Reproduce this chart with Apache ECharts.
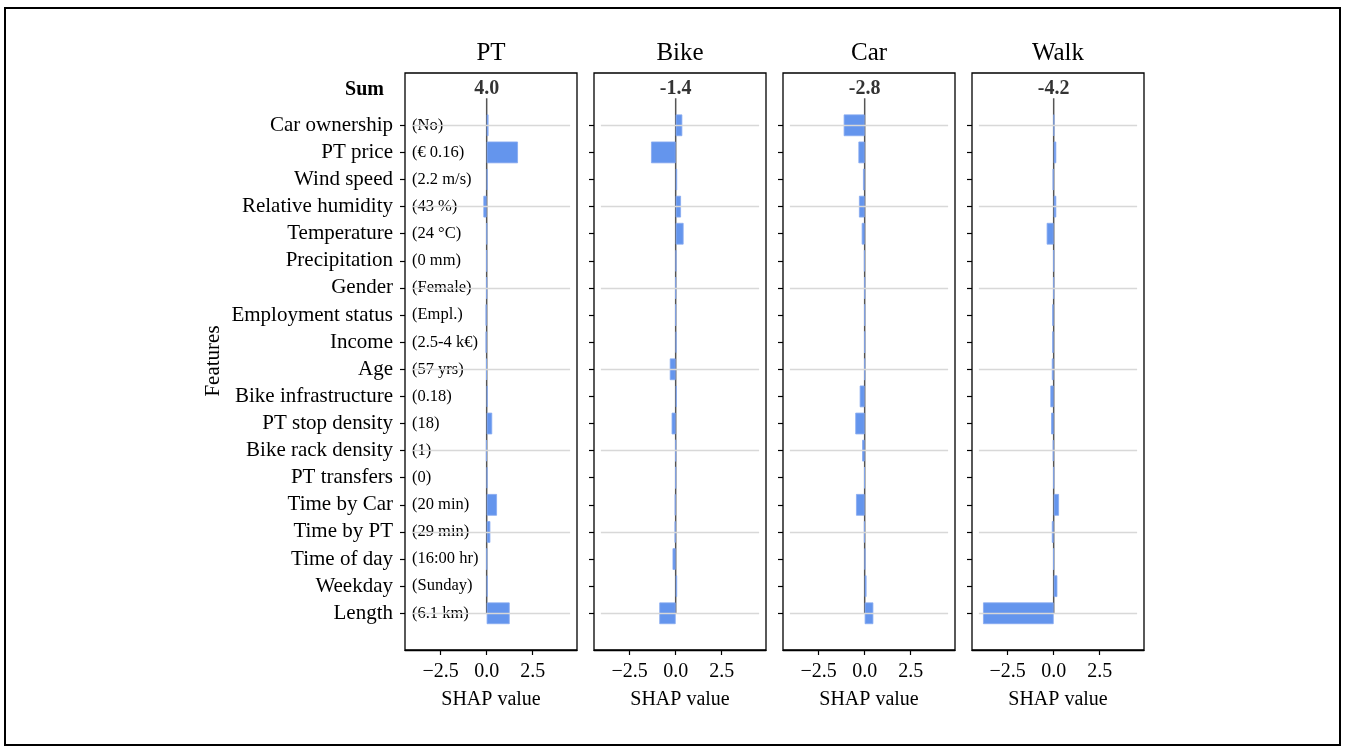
<!DOCTYPE html>
<html>
<head>
<meta charset="utf-8">
<script src="https://cdn.jsdelivr.net/npm/echarts@6/dist/echarts.min.js"></script>
<style>html,body{margin:0;padding:0;background:#fff}#c{width:1345px;height:749px}</style>
</head>
<body>
<div id="c"></div>
<script>
const modes = ['PT', 'Bike', 'Car', 'Walk'];
const features = ['Car ownership', 'PT price', 'Wind speed', 'Relative humidity', 'Temperature',
  'Precipitation', 'Gender', 'Employment status', 'Income', 'Age', 'Bike infrastructure',
  'PT stop density', 'Bike rack density', 'PT transfers', 'Time by Car', 'Time by PT',
  'Time of day', 'Weekday', 'Length'];
const featureValues = ['(No)', '(€ 0.16)', '(2.2 m/s)', '(43 %)', '(24 °C)', '(0 mm)', '(Female)',
  '(Empl.)', '(2.5-4 k€)', '(57 yrs)', '(0.18)', '(18)', '(1)', '(0)', '(20 min)', '(29 min)',
  '(16:00 hr)', '(Sunday)', '(6.1 km)'];
const sums = ['4.0', '-1.4', '-2.8', '-4.2'];
const shapPT   = [0.10, 1.70, 0.05, -0.18, 0.01, 0.00, 0.00, -0.06, -0.06, -0.02, 0.05, 0.30, -0.03, 0.04, 0.56, 0.20, 0.01, 0.05, 1.25];
const shapBike = [0.36, -1.34, 0.08, 0.29, 0.43, 0.03, 0.00, 0.00, 0.04, -0.32, 0.06, -0.22, 0.00, 0.00, -0.05, -0.06, -0.17, 0.08, -0.89];
const shapCar  = [-1.14, -0.34, -0.09, -0.31, -0.16, -0.03, 0.00, 0.00, 0.00, 0.00, -0.27, -0.51, -0.14, -0.02, -0.47, -0.03, 0.03, 0.10, 0.47];
const shapWalk = [0.02, 0.14, -0.06, 0.14, -0.38, 0.00, 0.00, -0.08, -0.08, -0.10, -0.18, -0.14, -0.05, 0.00, 0.29, -0.10, -0.01, 0.20, -3.84];
const xTicks = [-2.5, 0, 2.5];

const shap = [shapPT, shapBike, shapCar, shapWalk];
const FONT = "'Liberation Serif', 'Times New Roman', serif";
const XMIN = -4.44, XMAX = 4.91;
const lefts = [405, 594, 783, 972];
const W = 172;
const OUT_TOP = 73, OUT_H = 577;
const ROW = 27.11;
const IN_TOP = 125.3 - ROW / 2, IN_H = ROW * features.length;
const YMIN = -(125.3 - OUT_TOP) / ROW, YMAX = YMIN + OUT_H / ROW;

const grid = [], xAxis = [], yAxis = [], series = [], graphic = [];
const fmt = v => (v < 0 ? '\u2212' : '') + Math.abs(v).toFixed(1);

modes.forEach((m, k) => {
  grid.push({left: lefts[k], top: OUT_TOP, width: W, height: OUT_H, show: true,
    borderColor: '#000', borderWidth: 1.3, backgroundColor: 'transparent'});
  grid.push({left: lefts[k], top: IN_TOP, width: W, height: IN_H, show: false});
  const go = 2 * k, gi = 2 * k + 1;
  xAxis.push({gridIndex: go, type: 'value', min: XMIN, max: XMAX, position: 'bottom',
    axisLine: {show: true, onZero: false, lineStyle: {color: '#000', width: 1.3}},
    axisTick: {show: true, length: 5, lineStyle: {color: '#000', width: 1.2}, customValues: xTicks},
    axisLabel: {show: true, margin: 12, fontFamily: FONT, fontSize: 20, color: '#000',
      customValues: xTicks, formatter: fmt},
    splitLine: {show: false},
    name: 'SHAP value', nameLocation: 'middle', nameGap: 40,
    nameTextStyle: {fontFamily: FONT, fontSize: 20, color: '#000'}});
  xAxis.push({gridIndex: gi, type: 'value', min: XMIN, max: XMAX, show: false, axisLine: {onZero: false}});
  yAxis.push({gridIndex: go, type: 'value', inverse: true, min: YMIN, max: YMAX, show: false, axisLine: {onZero: false}});
  const yc = yAxis.length;
  yAxis.push({gridIndex: gi, type: 'category', data: features, inverse: true,
    position: 'left',
    axisLine: {show: false, onZero: false},
    axisTick: {show: true, alignWithLabel: true, interval: 0, length: 5, lineStyle: {color: '#000', width: 1.2}},
    axisLabel: {show: k === 0, interval: 0, margin: 12, fontFamily: FONT, fontSize: 21, color: '#000'},
    splitLine: {show: false}});
  if (k === 0) {
    yAxis.push({gridIndex: gi, type: 'category', data: featureValues, inverse: true,
      position: 'left',
      axisLine: {show: false, onZero: false}, axisTick: {show: false},
      axisLabel: {show: true, interval: 0, inside: true, margin: 7, fontFamily: FONT, fontSize: 16.5, color: '#000'},
      splitLine: {show: false}});
  }
  series.push({type: 'line', xAxisIndex: go, yAxisIndex: yc - 1, silent: true, symbol: 'none',
    data: [[0, -1], [0, features.length - 1]], lineStyle: {color: '#555', width: 1.5}, z: 1});
  series.push({type: 'bar', xAxisIndex: gi, yAxisIndex: yc, barWidth: '80%',
    data: shap[k], itemStyle: {color: '#6495ED', borderColor: '#86aaf0', borderWidth: 0.8}, z: 2,
    markLine: {silent: true, symbol: 'none', z: 5, label: {show: false},
      lineStyle: {color: '#d8d8d8', type: 'solid', width: 1.4},
      data: features.filter((f, i) => i % 3 === 0).map(f => [
        {coord: [XMIN + 0.04 * (XMAX - XMIN), f]}, {coord: [XMIN + 0.96 * (XMAX - XMIN), f]}])}});
  series.push({type: 'scatter', xAxisIndex: go, yAxisIndex: yc - 1, symbolSize: 1, silent: true,
    itemStyle: {color: 'transparent'},
    data: [[0, -1.34]],
    label: {show: true, position: 'inside', formatter: () => sums[k],
      fontFamily: FONT, fontSize: 20, fontWeight: 'bold', color: '#000'}, z: 6});
  graphic.push({type: 'text', x: lefts[k] + W / 2, y: 53,
    style: {text: m, fontFamily: FONT, fontSize: 25, fill: '#000', align: 'center', verticalAlign: 'middle'}});
});

graphic.push({type: 'text', x: 384, y: 90,
  style: {text: 'Sum', fontFamily: FONT, fontSize: 20, fontWeight: 'bold', fill: '#000', align: 'right', verticalAlign: 'middle'}});
graphic.push({type: 'text', x: 213, y: 361, rotation: Math.PI / 2,
  style: {text: 'Features', fontFamily: FONT, fontSize: 21, fill: '#000', align: 'center', verticalAlign: 'middle'}});
graphic.push({type: 'rect', shape: {x: 5, y: 8, width: 1335, height: 737},
  style: {fill: 'none', stroke: '#000', lineWidth: 2}, z: -1});

const chart = echarts.init(document.getElementById('c'), null, {renderer: 'canvas'});
chart.setOption({animation: false, backgroundColor: '#fff', grid, xAxis, yAxis, series, graphic});
</script>
</body>
</html>
